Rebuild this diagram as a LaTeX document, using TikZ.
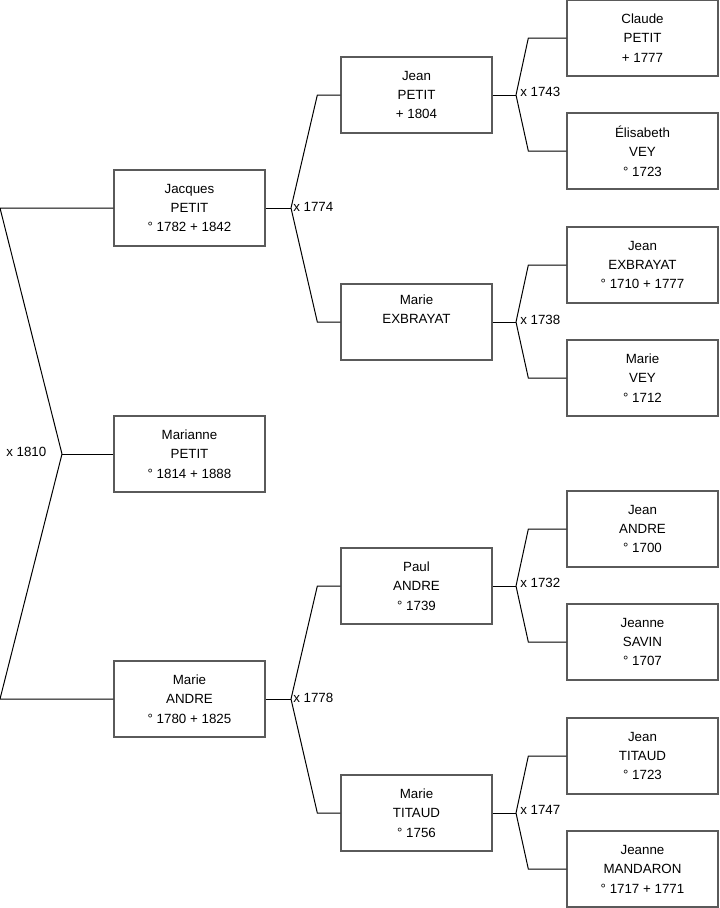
\documentclass[tikz,border=0pt]{standalone}
\usepackage{fontspec}
\setmainfont{Liberation Sans}
\definecolor{treeink}{HTML}{000000}
\definecolor{treeframe}{HTML}{5A5A5A}

\begin{document}
\begin{tikzpicture}[
  x=0.75pt,
  y=-0.75pt,
  every node/.style={font=\fontsize{10}{14.6}\selectfont, treeink},
  person/.style={draw=treeframe, line width=1pt, align=center,
    minimum width=113.25pt, minimum height=57pt, inner sep=0pt},
  link/.style={treeink, line width=0.75pt},
  wed/.style={anchor=west, inner sep=0pt}
]
  % ---- page, 719 x 908 px ----------------------------------------------
  \useasboundingbox (0,0) rectangle (719,908);

  % ---- the child and her parents ---------------------------------------
  \node[person] (jacques)  at (189.5,208) {Jacques\\PETIT\\° 1782 + 1842};
  \node[person] (marianne) at (189.5,454) {Marianne\\PETIT\\° 1814 + 1888};
  \node[person] (marieA)   at (189.5,699) {Marie\\ANDRE\\° 1780 + 1825};

  % ---- grand-parents ---------------------------------------------------
  \node[person] (jeanP)  at (416.5,95)  {Jean\\PETIT\\+ 1804};
  \node[person] (marieE) at (416.5,322) {Marie\\EXBRAYAT\\\strut};
  \node[person] (paulA)  at (416.5,586) {Paul\\ANDRE\\° 1739};
  \node[person] (marieT) at (416.5,813) {Marie\\TITAUD\\° 1756};

  % ---- great-grand-parents ---------------------------------------------
  \node[person] (claude)    at (642.5,38)  {Claude\\PETIT\\+ 1777};
  \node[person] (elisabeth) at (642.5,151) {Élisabeth\\VEY\\° 1723};
  \node[person] (jeanE)     at (642.5,265) {Jean\\EXBRAYAT\\° 1710 + 1777};
  \node[person] (marieV)    at (642.5,378) {Marie\\VEY\\° 1712};
  \node[person] (jeanA)     at (642.5,529) {Jean\\ANDRE\\° 1700};
  \node[person] (jeanneS)   at (642.5,642) {Jeanne\\SAVIN\\° 1707};
  \node[person] (jeanT)     at (642.5,756) {Jean\\TITAUD\\° 1723};
  \node[person] (jeanneM)   at (642.5,869) {Jeanne\\MANDARON\\° 1717 + 1771};

  % ---- marriage points -------------------------------------------------
  \coordinate (m1810) at (62,454);
  \coordinate (m1774) at (291,208);
  \coordinate (m1778) at (291,699);
  \coordinate (m1743) at (516,95);
  \coordinate (m1738) at (516,322);
  \coordinate (m1732) at (516,586);
  \coordinate (m1747) at (516,813);

  % ---- x 1810 ----------------------------------------------------------
  \coordinate (top1810) at (0,208);
  \coordinate (bot1810) at (0,699);
  \draw[link] (marianne.west) -- (m1810);
  \draw[link] (jacques.west) -- (top1810) -- (m1810);
  \draw[link] (marieA.west) -- (bot1810) -- (m1810);
  \node[wed] at (6,452) {x 1810};

  % ---- second generation -----------------------------------------------
  \draw[link] (jacques.east) -- (m1774);
  \draw[link] (jeanP.west) -- ++(-23,0) -- (m1774);
  \draw[link] (marieE.west) -- ++(-23,0) -- (m1774);
  \node[wed] at (293,207) {x 1774};

  \draw[link] (marieA.east) -- (m1778);
  \draw[link] (paulA.west) -- ++(-23,0) -- (m1778);
  \draw[link] (marieT.west) -- ++(-23,0) -- (m1778);
  \node[wed] at (293,698) {x 1778};

  % ---- third generation ------------------------------------------------
  \draw[link] (jeanP.east) -- (m1743);
  \draw[link] (claude.west) -- ++(-38,0) -- (m1743);
  \draw[link] (elisabeth.west) -- ++(-38,0) -- (m1743);
  \node[wed] at (520,92) {x 1743};

  \draw[link] (marieE.east) -- (m1738);
  \draw[link] (jeanE.west) -- ++(-38,0) -- (m1738);
  \draw[link] (marieV.west) -- ++(-38,0) -- (m1738);
  \node[wed] at (520,320) {x 1738};

  \draw[link] (paulA.east) -- (m1732);
  \draw[link] (jeanA.west) -- ++(-38,0) -- (m1732);
  \draw[link] (jeanneS.west) -- ++(-38,0) -- (m1732);
  \node[wed] at (520,583) {x 1732};

  \draw[link] (marieT.east) -- (m1747);
  \draw[link] (jeanT.west) -- ++(-38,0) -- (m1747);
  \draw[link] (jeanneM.west) -- ++(-38,0) -- (m1747);
  \node[wed] at (520,810) {x 1747};
\end{tikzpicture}
\end{document}
